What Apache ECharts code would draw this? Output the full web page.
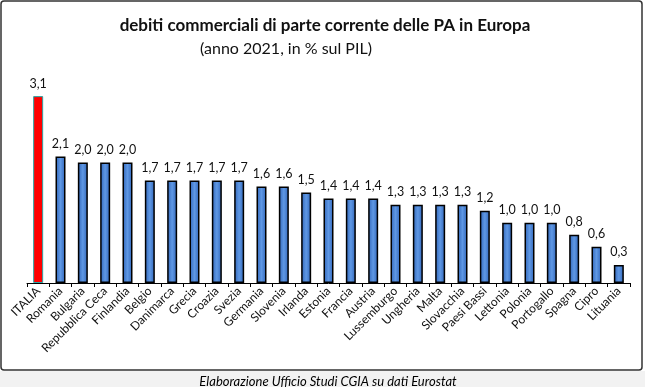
<!DOCTYPE html>
<html><head><meta charset="utf-8">
<script src="https://cdn.jsdelivr.net/npm/echarts@6/dist/echarts.min.js"></script>
<style>html,body{margin:0;padding:0;background:#fff}#c{width:645px;height:387px}</style>
</head><body><div id="c"></div>
<script>
const categories = ["ITALIA","Romania","Bulgaria","Repubblica Ceca","Finlandia","Belgio","Danimarca","Grecia","Croazia","Svezia","Germania","Slovenia","Irlanda","Estonia","Francia","Austria","Lussemburgo","Ungheria","Malta","Slovacchia","Paesi Bassi","Lettonia","Polonia","Portogallo","Spagna","Cipro","Lituania"];
const values = [3.1,2.1,2.0,2.0,2.0,1.7,1.7,1.7,1.7,1.7,1.6,1.6,1.5,1.4,1.4,1.4,1.3,1.3,1.3,1.3,1.2,1.0,1.0,1.0,0.8,0.6,0.3];
const titleText = "debiti commerciali di parte corrente delle PA in Europa";
const subtitleText = "(anno 2021, in % sul PIL)";
const footerText = "Elaborazione Ufficio Studi CGIA su dati Eurostat";

const font = "Lato, 'Open Sans', sans-serif";
const blue = {type:'linear',x:0,y:0,x2:1,y2:0,colorStops:[{offset:0,color:'#2f64b8'},{offset:0.5,color:'#5f98e4'},{offset:1,color:'#2f64b8'}]};
const chart = echarts.init(document.getElementById('c'));
chart.setOption({
  animation:false,
  backgroundColor:'#fff',
  graphic:[
    {type:'rect',left:0,top:371,shape:{width:645,height:16},style:{fill:'#f2f2f2'},z:-10},
    {type:'rect',shape:{x:1,y:1,width:641,height:369,r:3},style:{fill:'#fff',stroke:'#333',lineWidth:1.5},z:-9}
  ],
  title:[
    {text:titleText,left:320,top:12,textAlign:'center',textStyle:{fontFamily:font,fontWeight:'bold',fontSize:17,color:'#111'}},
    {text:subtitleText,left:281,top:36,textAlign:'center',textStyle:{fontFamily:font,fontWeight:'normal',fontSize:16,color:'#111'}},
    {text:footerText,left:323,top:370,textAlign:'center',textStyle:{fontFamily:font,fontStyle:'italic',fontWeight:'normal',fontSize:13,color:'#000'}}
  ],
  grid:{left:27,right:15,top:72,bottom:104,containLabel:false},
  xAxis:{type:'category',data:categories,boundaryGap:true,
    axisLine:{lineStyle:{color:'#000',width:1}},
    axisTick:{show:true,length:4,lineStyle:{color:'#000'}},
    axisLabel:{rotate:45,interval:0,fontFamily:font,fontSize:12,color:'#111',margin:6}},
  yAxis:{type:'value',min:0,max:3.5,show:false,splitLine:{show:false}},
  series:[{type:'bar',barWidth:10,
    data:values.map((v,i)=>({value:v,itemStyle:i===0?{color:'#ff0000',borderColor:'#2aa6a6',borderWidth:1}:{color:blue,borderColor:'#000',borderWidth:1.5}})),
    label:{show:true,position:'top',distance:6,fontFamily:font,fontSize:12.5,color:'#111',formatter:p=>p.value.toFixed(1).replace('.',',')}}]
});
</script></body></html>
